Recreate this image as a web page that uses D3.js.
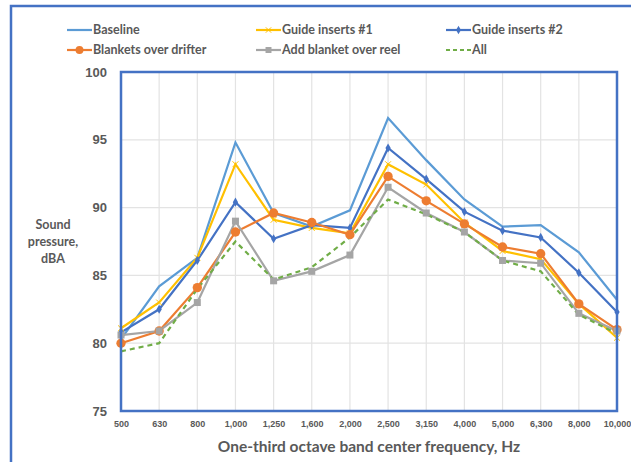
<!DOCTYPE html>
<html>
<head>
<meta charset="utf-8">
<script src="https://cdn.jsdelivr.net/npm/d3@7"></script>
<style>
  body { margin: 0; background: #fff; }
  svg { display: block; font-family: Lato, "Open Sans", sans-serif; }
</style>
</head>
<body>
<div id="chart"></div>
<script>
const frequencies = ["500", "630", "800", "1,000", "1,250", "1,600", "2,000", "2,500", "3,150", "4,000", "5,000", "6,300", "8,000", "10,000"];
const baseline      = [80.3, 84.2, 86.3, 94.8, 89.6, 88.6, 89.8, 96.6, 93.5, 90.6, 88.6, 88.7, 86.7, 83.2];
const guideInserts1 = [81.1, 83.0, 86.3, 93.2, 89.1, 88.5, 88.1, 93.2, 91.7, 88.9, 86.8, 86.2, 82.9, 80.4];
const guideInserts2 = [80.8, 82.5, 86.1, 90.4, 87.7, 88.7, 88.5, 94.4, 92.1, 89.7, 88.3, 87.8, 85.2, 82.3];
const blankets      = [80.0, 80.9, 84.1, 88.2, 89.6, 88.9, 88.0, 92.3, 90.5, 88.8, 87.1, 86.6, 82.9, 81.0];
const blanketReel   = [80.6, 80.9, 83.0, 89.0, 84.6, 85.3, 86.5, 91.5, 89.6, 88.2, 86.1, 85.9, 82.2, 80.9];
const allMeasures   = [79.4, 80.0, 84.0, 87.5, 84.7, 85.6, 87.8, 90.6, 89.5, 88.2, 86.1, 85.3, 82.1, 80.7];
const yTicks = [75, 80, 85, 90, 95, 100];

const series = [
  { name: "Baseline", values: baseline, color: "#5B9BD5", marker: "none" },
  { name: "Guide inserts #1", values: guideInserts1, color: "#FFC000", marker: "star" },
  { name: "Guide inserts #2", values: guideInserts2, color: "#4472C4", marker: "diamond" },
  { name: "Blankets over drifter", values: blankets, color: "#ED7D31", marker: "circle" },
  { name: "Add blanket over reel", values: blanketReel, color: "#A5A5A5", marker: "square" },
  { name: "All", values: allMeasures, color: "#70AD47", marker: "none", dash: "5,4" }
];

const W = 631, H = 462;
const margin = { top: 72, right: 14, bottom: 51, left: 121 };
const width = W - margin.left - margin.right,
      height = H - margin.top - margin.bottom;

const svg = d3.select("#chart").append("svg")
    .attr("width", W)
    .attr("height", H);

// outer chart frame
svg.append("rect")
    .attr("x", 11).attr("y", 6)
    .attr("width", W + 20).attr("height", H + 20)
    .attr("fill", "none")
    .attr("stroke", "#4472C4")
    .attr("stroke-width", 2.5);

const g = svg.append("g")
    .attr("transform", "translate(" + margin.left + "," + margin.top + ")");

const x = d3.scalePoint().domain(frequencies).range([0, width]);
const y = d3.scaleLinear().domain([75, 100]).range([height, 0]);

// gridlines
g.append("g").selectAll("line")
    .data(yTicks).enter().append("line")
    .attr("x1", 0).attr("x2", width)
    .attr("y1", d => y(d)).attr("y2", d => y(d))
    .attr("stroke", "#E3E3E3").attr("stroke-width", 1.2);
g.append("g").selectAll("line")
    .data(frequencies).enter().append("line")
    .attr("x1", d => x(d)).attr("x2", d => x(d))
    .attr("y1", 0).attr("y2", height)
    .attr("stroke", "#E3E3E3").attr("stroke-width", 1.2);

// axes (labels only)
const yAxis = g.append("g")
    .call(d3.axisLeft(y).tickValues(yTicks).tickSize(0).tickPadding(14));
yAxis.select(".domain").remove();
yAxis.selectAll("text")
    .attr("fill", "#595959").style("font-size", "13px").style("font-weight", "bold");

const xAxis = g.append("g")
    .attr("transform", "translate(0," + height + ")")
    .call(d3.axisBottom(x).tickSize(0).tickPadding(10));
xAxis.select(".domain").remove();
xAxis.selectAll("text")
    .attr("fill", "#595959").style("font-size", "9px").style("font-weight", "bold");

// lines
const line = d3.line().x((d, i) => x(frequencies[i])).y(d => y(d));

series.forEach(s => {
  g.append("path")
      .datum(s.values)
      .attr("fill", "none")
      .attr("stroke", s.color)
      .attr("stroke-width", 2.2)
      .attr("stroke-dasharray", s.dash || null)
      .attr("d", line);
});

function drawMarker(sel, type, color, size) {
  if (type === "circle") {
    sel.append("circle").attr("r", size * 0.62).attr("fill", color);
  } else if (type === "square") {
    sel.append("rect").attr("x", -size / 2).attr("y", -size / 2)
        .attr("width", size).attr("height", size).attr("fill", color);
  } else if (type === "diamond") {
    sel.append("path").attr("d", d3.symbol(d3.symbolDiamond, size * 4)()).attr("fill", color);
  } else if (type === "star") {
    sel.append("path").attr("d", d3.symbol(d3.symbolTimes, size * 4)())
        .attr("fill", "none").attr("stroke", color).attr("stroke-width", 1);
  }
}

const markerSize = { circle: 7.5, square: 7, diamond: 6, star: 6 };

series.filter(s => s.marker !== "none").forEach(s => {
  g.append("g").selectAll("g")
      .data(s.values).enter().append("g")
      .attr("transform", (d, i) => "translate(" + x(frequencies[i]) + "," + y(d) + ")")
      .each(function () { drawMarker(d3.select(this), s.marker, s.color, markerSize[s.marker]); });
});

// plot area frame
g.append("rect")
    .attr("width", width).attr("height", height)
    .attr("fill", "none")
    .attr("stroke", "#4472C4")
    .attr("stroke-width", 2.5);

// axis titles
svg.append("text")
    .attr("x", margin.left + width / 2).attr("y", 452)
    .attr("text-anchor", "middle")
    .attr("fill", "#595959")
    .style("font-size", "15.5px").style("font-weight", "bold")
    .text("One-third octave band center frequency, Hz");

svg.append("text")
    .attr("text-anchor", "middle")
    .attr("fill", "#595959")
    .style("font-size", "12.5px").style("font-weight", "bold")
    .selectAll("tspan")
    .data(["Sound", "pressure,", "dBA"]).enter().append("tspan")
    .attr("x", 53)
    .attr("y", (d, i) => 229 + i * 17)
    .text(d => d);

// legend
const legendPos = [[67, 30], [256, 30], [446, 30], [67, 50], [256, 50], [446, 50]];
series.forEach((s, i) => {
  const lg = svg.append("g").attr("transform", "translate(" + legendPos[i][0] + "," + legendPos[i][1] + ")");
  lg.append("line")
      .attr("x1", 0).attr("x2", 25)
      .attr("stroke", s.color).attr("stroke-width", 2.2)
      .attr("stroke-dasharray", s.dash ? "4,3" : null);
  if (s.marker !== "none") {
    const m = lg.append("g").attr("transform", "translate(12.5,0)");
    drawMarker(m, s.marker, s.color, markerSize[s.marker] * 0.85);
  }
  lg.append("text")
      .attr("x", 26).attr("dy", "0.35em")
      .attr("fill", "#595959")
      .style("font-size", "12.5px").style("font-weight", "bold")
      .text(s.name);
});
</script>
</body>
</html>
